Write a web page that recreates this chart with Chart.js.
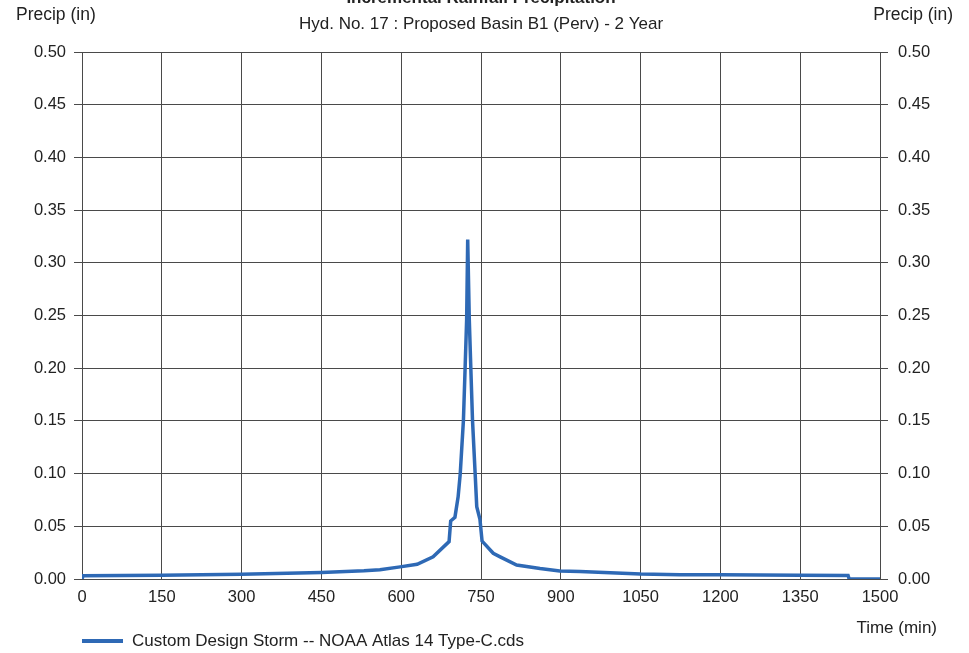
<!DOCTYPE html>
<html>
<head>
<meta charset="utf-8">
<script src="https://cdn.jsdelivr.net/npm/chart.js@4.4.1/dist/chart.umd.min.js"></script>
<style>
  html, body { margin: 0; padding: 0; background: #fff; }
  #wrap { width: 969px; height: 653px; position: relative; }
</style>
</head>
<body>
<div id="wrap"><canvas id="chart"></canvas></div>
<script>
// time in minutes, incremental precip in inches
const times = [0, 2, 150, 300, 450, 530, 560, 598, 630, 660, 690, 693, 701, 707, 711, 717, 720, 723, 725, 728, 731, 734, 739, 742, 748, 752, 773, 786, 817, 861, 898, 936, 1050, 1124, 1200, 1350, 1440, 1442, 1500];
const precip = [0, 0.003, 0.0035, 0.0045, 0.0062, 0.0078, 0.0088, 0.0115, 0.014, 0.021, 0.0355, 0.055, 0.0585, 0.078, 0.100, 0.151, 0.198, 0.246, 0.322, 0.246, 0.198, 0.151, 0.100, 0.0686, 0.0566, 0.036, 0.0244, 0.021, 0.0133, 0.010, 0.0077, 0.007, 0.0047, 0.0041, 0.004, 0.0035, 0.0033, 0, 0];
const xTicks = [0, 150, 300, 450, 600, 750, 900, 1050, 1200, 1350, 1500];
const yTicks = [0, 0.05, 0.10, 0.15, 0.20, 0.25, 0.30, 0.35, 0.40, 0.45, 0.50];

const titleText = 'Incremental Rainfall Precipitation';
const subtitleText = 'Hyd. No. 17 : Proposed Basin B1 (Perv) - 2 Year';
const yLabel = 'Precip (in)';
const xLabel = 'Time (min)';
const seriesName = 'Custom Design Storm -- NOAA Atlas 14 Type-C.cds';

const lineColor = '#2e69b5';
const gridColor = '#4a4a4a';
const font = 'Liberation Sans, Arial, sans-serif';

const points = times.map((t, i) => ({ x: t, y: precip[i] }));

// extra texts and legend drawn straight on the canvas
const decorations = {
    id: 'decorations',
    afterDraw(chart) {
        const ctx = chart.ctx;
        const area = chart.chartArea;
        ctx.save();
        ctx.fillStyle = '#222';
        ctx.textBaseline = 'middle';

        ctx.font = 'bold 17px ' + font;
        ctx.textAlign = 'center';
        ctx.fillText(titleText, 481, -2);

        ctx.font = '17px ' + font;
        ctx.fillText(subtitleText, 481, 24);

        ctx.font = '17.5px ' + font;
        ctx.textAlign = 'left';
        ctx.fillText(yLabel, 16, 15);
        ctx.textAlign = 'right';
        ctx.fillText(yLabel, 953, 15);

        ctx.font = '17px ' + font;
        ctx.fillText(xLabel, 937, 628);

        // legend
        ctx.strokeStyle = lineColor;
        ctx.lineWidth = 4;
        ctx.beginPath();
        ctx.moveTo(area.left, 641);
        ctx.lineTo(area.left + 41, 641);
        ctx.stroke();
        ctx.textAlign = 'left';
        ctx.fillText(seriesName, 132, 641);
        ctx.restore();
    }
};

new Chart(document.getElementById('chart').getContext('2d'), {
    type: 'line',
    data: {
        datasets: [{
            label: seriesName,
            data: points,
            borderColor: lineColor,
            borderWidth: 3.5,
            pointRadius: 0,
            tension: 0,
            fill: false,
            yAxisID: 'y'
        }]
    },
    options: {
        responsive: true,
        maintainAspectRatio: false,
        animation: false,
        layout: { padding: { top: 52, left: 0, right: 0, bottom: 0 } },
        plugins: {
            legend: { display: false },
            tooltip: { enabled: false },
            title: { display: false }
        },
        scales: {
            x: {
                type: 'linear',
                min: 0,
                max: 1500,
                afterBuildTicks: scale => { scale.ticks = xTicks.map(v => ({ value: v })); },
                afterFit: scale => { scale.height = 74; },
                grid: { color: gridColor, drawTicks: false, lineWidth: 1 },
                border: { color: gridColor },
                ticks: {
                    color: '#222',
                    font: { family: font, size: 16.5 },
                    padding: 9,
                    maxRotation: 0,
                    callback: v => String(v)
                }
            },
            y: {
                position: 'left',
                min: 0,
                max: 0.5,
                afterBuildTicks: scale => { scale.ticks = yTicks.map(v => ({ value: v })); },
                afterFit: scale => { scale.width = 82; },
                grid: { color: gridColor, tickLength: 8, lineWidth: 1 },
                border: { color: gridColor },
                ticks: {
                    color: '#222',
                    font: { family: font, size: 16.5 },
                    padding: 8,
                    callback: v => v.toFixed(2)
                }
            },
            y2: {
                position: 'right',
                min: 0,
                max: 0.5,
                afterBuildTicks: scale => { scale.ticks = yTicks.map(v => ({ value: v })); },
                afterFit: scale => { scale.width = 89; },
                grid: { color: gridColor, tickLength: 8, drawOnChartArea: false },
                border: { color: gridColor },
                ticks: {
                    color: '#222',
                    font: { family: font, size: 16.5 },
                    padding: 10,
                    callback: v => v.toFixed(2)
                }
            }
        }
    },
    plugins: [decorations]
});
</script>
</body>
</html>
